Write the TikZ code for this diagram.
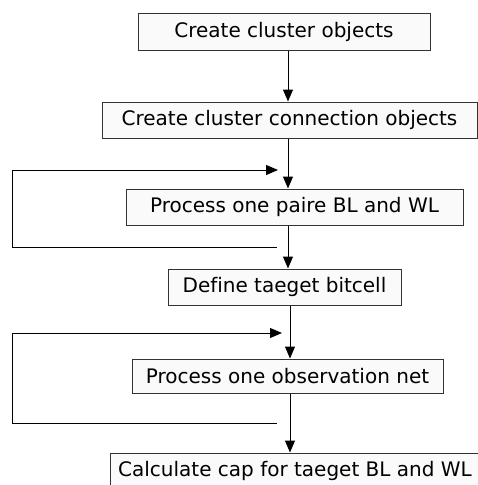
\documentclass[tikz,border=0pt]{standalone}
\usepackage{fontspec}
\setmainfont[Ligatures=NoCommon]{DejaVu Sans}
\usetikzlibrary{arrows.meta}
\definecolor{boxfill}{HTML}{FAFAFA}
\definecolor{boxline}{HTML}{333333}
\begin{document}
\begin{tikzpicture}[x=1pt,y=-1pt,
  stepbox/.style={draw=boxline,fill=boxfill,line width=1pt,rectangle,inner sep=0pt,
    font=\fontsize{20}{24}\selectfont},
  arr/.style={line width=1pt,-{Triangle[length=12pt,width=10pt]}},
  plain/.style={line width=1pt}]
\useasboundingbox (0,0) rectangle (478,485);
\clip (0,0) rectangle (478,485);
\fill[white] (0,0) rectangle (478,485);

% process steps
\node[stepbox,minimum width=292pt,minimum height=37pt] (b1) at (284,31.5) {Create cluster objects};
\node[stepbox,minimum width=375pt,minimum height=36pt] (b2) at (289.5,120) {Create cluster connection objects};
\node[stepbox,minimum width=337pt,minimum height=36pt] (b3) at (294.5,207) {Process one paire BL and WL};
\node[stepbox,minimum width=233pt,minimum height=36pt] (b4) at (284.5,287) {Define taeget bitcell};
\node[stepbox,minimum width=311pt,minimum height=34pt] (b5) at (287.5,376) {Process one observation net};
\node[stepbox,minimum width=370pt,minimum height=36pt] (b6) at (295,471) {Calculate cap for taeget BL and WL};

% spine positions
\coordinate (sA) at (288,0);
\coordinate (sB) at (290,0);

% main flow
\draw[arr] (b1.south -| sA) -- (b2.north -| sA);
\draw[arr] (b2.south -| sA) -- (b3.north -| sA);
\draw[arr] (b3.south -| sA) -- (b4.north -| sA);
\draw[arr] (b4.south -| sB) -- (b5.north -| sB);
\draw[arr] (b5.south -| sB) -- (b6.north -| sB);

% loop back over the BL/WL pairs
\coordinate (l1s) at (277,247);
\coordinate (l1e) at (278,170);
\draw[arr] (l1s) -- (12,247) -- (12,170) -- (l1e);

% loop back over the observation nets
\coordinate (l2s) at (277,423);
\coordinate (l2e) at (282,333);
\draw[arr] (l2s) -- (12,423) -- (12,333) -- (l2e);
\end{tikzpicture}
\end{document}
